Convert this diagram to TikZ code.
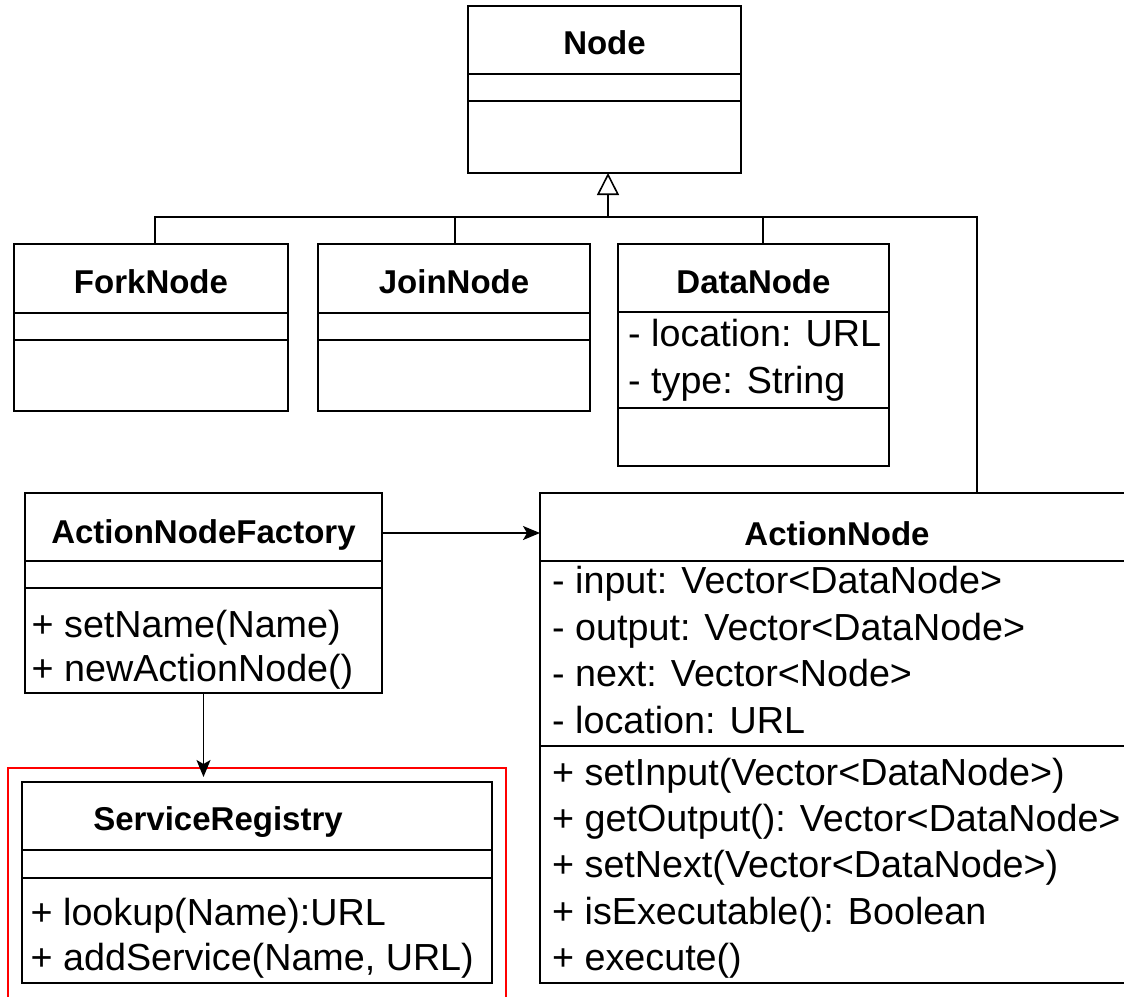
\documentclass[tikz,border=0pt]{standalone}
\usepackage{fontspec}
\setmainfont{Liberation Sans}
\usetikzlibrary{arrows.meta}
\tikzset{
  classbox/.style={draw=black, line width=1.8pt, inner sep=0pt, outer sep=0pt, fill=white},
  classline/.style={draw=black, line width=1.8pt},
  conn/.style={draw=black, line width=1.6pt},
  assoc/.style={conn, -{Stealth[length=17pt, width=14pt, inset=4pt]}},
  gen/.style={conn, -{Triangle[open, length=22pt, width=22pt, line width=1.6pt]}},
  titletxt/.style={inner sep=0pt, anchor=base, font=\fontsize{33}{40}\selectfont\bfseries},
  membertxt/.style={inner sep=0pt, anchor=base west, font=\fontsize{37.7}{46.5}\selectfont},
  regionbox/.style={draw=red, line width=2pt}
}
\newcommand{\ClassBox}[5]{%
  \node[classbox, minimum width={#4-#2}, minimum height={#5-#3}] (#1) at ({(#2+#4)/2},{(#3+#5)/2}) {};}
\newcommand{\DividerLine}[2]{%
  \draw[classline] (#1.west |- 0,#2) -- (#1.east |- 0,#2);}
\begin{document}
\begin{tikzpicture}[x=1pt, y=-1pt]
\useasboundingbox (0,0) rectangle (1124,996);
\clip (0,0) rectangle (1124,996);
\fill[white] (0,0) rectangle (1124,996);

% Node
\ClassBox{node}{468}{6}{741}{173}
\DividerLine{node}{74}
\DividerLine{node}{101}
\node[titletxt] (nodeT) at (604.5,54) {Node};

% ForkNode
\ClassBox{fork}{14}{244}{288}{411}
\DividerLine{fork}{313}
\DividerLine{fork}{340}
\node[titletxt] (forkT) at (151,293) {ForkNode};

% JoinNode
\ClassBox{join}{318}{244}{590}{411}
\DividerLine{join}{313}
\DividerLine{join}{340}
\node[titletxt] (joinT) at (454,293) {JoinNode};

% DataNode
\ClassBox{data}{618}{244}{889}{466}
\DividerLine{data}{312}
\DividerLine{data}{408}
\node[titletxt] (dataT) at (753.5,293) {DataNode};
\node[membertxt] (dataA1) at (628,346) {- location: URL};
\node[membertxt] (dataA2) at (628,393) {- type: String};

% ActionNodeFactory
\ClassBox{factory}{25}{493}{382}{693}
\DividerLine{factory}{561}
\DividerLine{factory}{588}
\node[titletxt] (factoryT) at (203.5,543) {ActionNodeFactory};
\node[membertxt] (factoryM1) at (31.5,637) {+ setName(Name)};
\node[membertxt] (factoryM2) at (31.5,681) {+ newActionNode()};

% ActionNode
\ClassBox{action}{540}{493}{1140}{983}
\DividerLine{action}{561}
\DividerLine{action}{746}
\node[titletxt] (actionT) at (837,545) {ActionNode};
\node[membertxt] (actionA1) at (552,593) {- input: Vector<DataNode>};
\node[membertxt] (actionA2) at (552,640) {- output: Vector<DataNode>};
\node[membertxt] (actionA3) at (552,686) {- next: Vector<Node>};
\node[membertxt] (actionA4) at (552,733) {- location: URL};
\node[membertxt] (actionM1) at (552,785) {+ setInput(Vector<DataNode>)};
\node[membertxt] (actionM2) at (552,831) {+ getOutput(): Vector<DataNode>};
\node[membertxt] (actionM3) at (552,877) {+ setNext(Vector<DataNode>)};
\node[membertxt] (actionM4) at (552,924) {+ isExecutable(): Boolean};
\node[membertxt] (actionM5) at (552,970) {+ execute()};

% ServiceRegistry
\ClassBox{registry}{22}{782}{492}{983}
\DividerLine{registry}{850}
\DividerLine{registry}{878}
\node[titletxt] (registryT) at (218,830) {ServiceRegistry};
\node[membertxt] (registryM1) at (30.5,925) {+ lookup(Name):URL};
\node[membertxt] (registryM2) at (30.5,970) {+ addService(Name, URL)};

% red highlight region
\draw[regionbox] (8,768) rectangle (506,1010);

% generalization tree
\coordinate (bus) at (608,217);
\draw[gen] (bus) -- (node.south -| bus);
\draw[conn] ([xshift=4pt]fork.north) |- (bus);
\draw[conn] ([xshift=1pt]join.north) |- (bus);
\draw[conn] ([xshift=9.5pt]data.north) |- (bus);
\draw[conn] ([xshift=437pt]action.north west) |- (bus);

% associations
\draw[assoc] ([yshift=-40pt]factory.north east) -- ([yshift=-40pt]action.north west);
\draw[assoc, shorten >=5pt] (factory.south) -- (factory.south |- registry.north);
\end{tikzpicture}
\end{document}
